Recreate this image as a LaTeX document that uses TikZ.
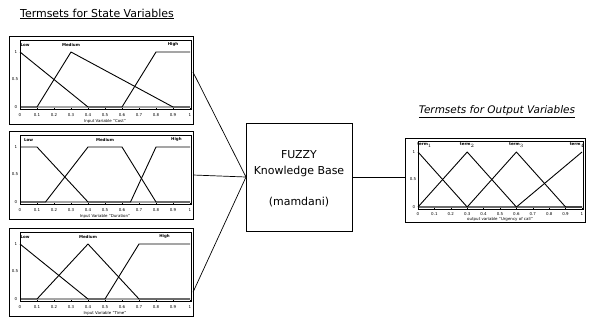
\documentclass[tikz,border=0pt]{standalone}
\usepackage{fontspec}
\setmainfont{DejaVu Sans}
\usetikzlibrary{calc}
\tikzset{
  panel/.style={draw, line width=0.9pt, minimum width=184bp, minimum height=88bp, inner sep=0pt, outer sep=0pt, anchor=north west},
  outpanel/.style={draw, line width=0.9pt, minimum width=180bp, minimum height=84bp, inner sep=0pt, outer sep=0pt, anchor=north west},
  axesbox/.style={line width=0.4pt},
  mf/.style={line width=0.9pt, line join=round},
  ticklab/.style={font=\fontsize{4}{4}\selectfont, inner sep=0pt},
  mflab/.style={font=\fontsize{4}{4}\selectfont\bfseries, inner sep=0pt},
  title/.style={font=\fontsize{11}{12}\selectfont, inner sep=0pt},
  kbtext/.style={font=\fontsize{11}{12}\selectfont, inner sep=0pt},
  conn/.style={line width=0.7pt}
}
\newcommand{\inaxes}[2]{% #1 name prefix, #2 axis title
  \draw[axesbox] (11,4) rectangle (182,73);
  \foreach \i/\l in {0/0,1/0.1,2/0.2,3/0.3,4/0.4,5/0.5,6/0.6,7/0.7,8/0.8,9/0.9,10/1} {
    \draw[axesbox] (11+17*\i,73) -- ++(0,-1.5);
    \node[ticklab] (#1x\i) at (11+17*\i,79) {\l};
  }
  \node[ticklab] (#1y1) at (7,16) {1};
  \node[ticklab] (#1y5) at (6,43.5) {0.5};
  \node[ticklab] (#1y0) at (7,71) {0};
  \node[ticklab] (#1t) at (96,85) {#2};
}
\begin{document}
\begin{tikzpicture}[x=1bp,y=-1bp]
\useasboundingbox (0,0) rectangle (591,322);

% titles
\node[title] (tstate) at (97,14) {\underline{Termsets for State Variables}};
\node[title, font=\fontsize{10.5}{12}\selectfont] (tout) at (497,112) {\underline{\itshape Termsets for Output Variables}};

% input panels
\node[panel] (p1) at (9,36) {};
\node[panel] (p2) at (9,131) {};
\node[panel] (p3) at (9,228) {};

% panel 1: Cost
\begin{scope}[shift={(9,36)}]
  \inaxes{a}{Input Variable ``Cost''}
  \begin{scope}[shift={(11,71)}, x=170bp, y=55bp]
    \draw[mf] (0,1) -- (0.4,0) -- (1,0);
    \draw[mf] (0,0) -- (0.1,0) -- (0.3,1) -- (0.9,0) -- (1,0);
    \draw[mf] (0,0) -- (0.6,0) -- (0.8,1) -- (1,1);
    \node[mflab] (a1) at (0.03,1.13) {Low};
    \node[mflab] (a2) at (0.3,1.13) {Medium};
    \node[mflab] (a3) at (0.9,1.13) {High};
  \end{scope}
\end{scope}

% panel 2: Duration
\begin{scope}[shift={(9,131)}]
  \inaxes{b}{Input Variable ``Duration''}
  \begin{scope}[shift={(11,71)}, x=170bp, y=55bp]
    \draw[mf] (0,1) -- (0.1,1) -- (0.4,0) -- (1,0);
    \draw[mf] (0,0) -- (0.15,0) -- (0.4,1) -- (0.6,1) -- (0.8,0) -- (1,0);
    \draw[mf] (0,0) -- (0.65,0) -- (0.8,1) -- (1,1);
    \node[mflab] (b1) at (0.05,1.13) {Low};
    \node[mflab] (b2) at (0.5,1.13) {Medium};
    \node[mflab] (b3) at (0.92,1.13) {High};
  \end{scope}
\end{scope}

% panel 3: Time
\begin{scope}[shift={(9,228)}]
  \inaxes{c}{Input Variable ``Time''}
  \begin{scope}[shift={(11,71)}, x=170bp, y=55bp]
    \draw[mf] (0,1) -- (0.4,0) -- (1,0);
    \draw[mf] (0,0) -- (0.1,0) -- (0.4,1) -- (0.7,0) -- (1,0);
    \draw[mf] (0,0) -- (0.5,0) -- (0.7,1) -- (1,1);
    \node[mflab] (c1l) at (0.03,1.13) {Low};
    \node[mflab] (c2l) at (0.4,1.13) {Medium};
    \node[mflab] (c3l) at (0.85,1.13) {High};
  \end{scope}
\end{scope}

% knowledge base
\node[draw, line width=0.7pt, minimum width=106bp, minimum height=108bp, inner sep=0pt, outer sep=0pt] (kb) at (299,177) {};
\node[kbtext] (kb1) at (299,155) {FUZZY};
\node[kbtext] (kb2) at (299,171) {Knowledge Base};
\node[kbtext] (kb3) at (299,202) {(mamdani)};

% output panel
\node[outpanel] (out) at (405,138) {};
\begin{scope}[shift={(405,138)}]
  \draw[axesbox] (13,3) rectangle (178,71);
  \foreach \i/\l in {0/0,1/0.1,2/0.2,3/0.3,4/0.4,5/0.5,6/0.6,7/0.7,8/0.8,9/0.9,10/1} {
    \draw[axesbox] (13+16.4*\i,71) -- ++(0,-1.5);
    \node[ticklab] (ox\i) at (13+16.4*\i,76) {\l};
  }
  \node[ticklab] (oy1) at (9,14) {1};
  \node[ticklab] (oy5) at (8,41.5) {0.5};
  \node[ticklab] (oy0) at (9,69) {0};
  \node[ticklab] (ot) at (95,81) {output variable ``Urgency of call''};
  \begin{scope}[shift={(13,69)}, x=164bp, y=55bp]
    \draw[mf] (0,1) -- (0.3,0) -- (1,0);
    \draw[mf] (0,0) -- (0.3,1) -- (0.6,0) -- (1,0);
    \draw[mf] (0,0) -- (0.3,0) -- (0.6,1) -- (0.9,0) -- (1,0);
    \draw[mf] (0,0) -- (0.6,0) -- (1,1);
    \node[mflab] (o1) at (0.04,1.13) {term$_1$};
    \node[mflab] (o2) at (0.3,1.13) {term$_2$};
    \node[mflab] (o3) at (0.6,1.13) {term$_3$};
    \node[mflab] (o4) at (0.97,1.13) {term$_4$};
  \end{scope}
\end{scope}

% connectors
\coordinate (c1) at ($(p1.north east)!0.41!(p1.south east)$);
\coordinate (c3) at ($(p3.north east)!0.73!(p3.south east)$);
\draw[conn] (c1) -- (kb.west);
\draw[conn] (p2.east) -- (kb.west);
\draw[conn] (c3) -- (kb.west);
\draw[conn] (kb.east) -- (kb.east -| out.west);
\end{tikzpicture}
\end{document}
